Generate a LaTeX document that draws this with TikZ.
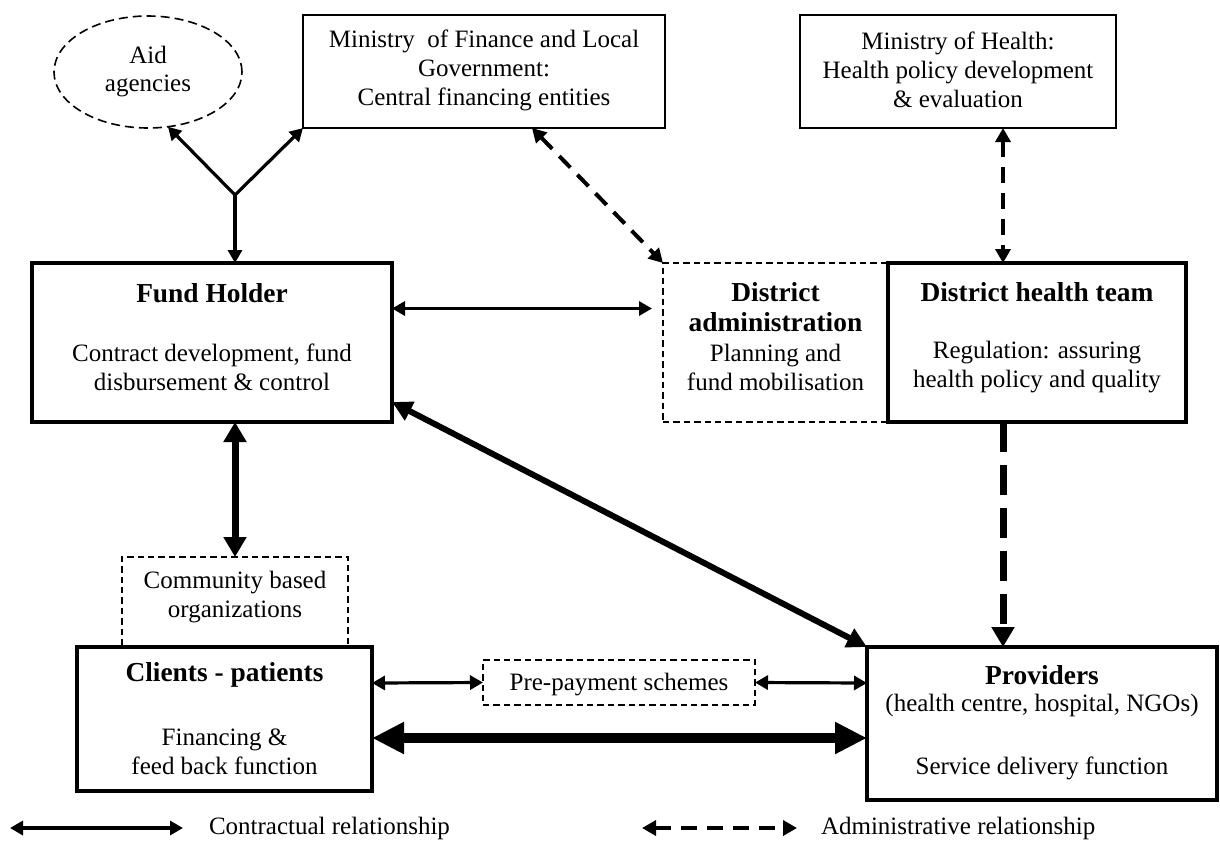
\documentclass[tikz,border=0pt]{standalone}
\usepackage{fontspec}
\setmainfont{Liberation Serif}
\usetikzlibrary{arrows.meta,shapes.geometric,calc}

\begin{document}
\begin{tikzpicture}[x=0.5pt,y=-0.5pt,
  every node/.style={inner sep=0pt,outer sep=0pt},
  body/.style={font=\fontsize{12.5pt}{14.5pt}\selectfont,align=center},
  title/.style={font=\fontsize{13.7pt}{15pt}\selectfont\bfseries,align=center},
  thinbox/.style={draw,line width=0.85pt},
  thickbox/.style={draw,line width=2pt},
  dashbox/.style={draw,line width=0.8pt,dash pattern=on 3.2pt off 2pt},
  dashoval/.style={draw,line width=0.8pt,dash pattern=on 4.5pt off 2.5pt},
  contract/.style={line width=1.6pt,
    {Triangle[length=6.5pt,width=7pt]}-{Triangle[length=6.5pt,width=7pt]}},
  oneway/.style={line width=1.6pt,-{Triangle[length=6.5pt,width=7pt]}},
  admin/.style={line width=2pt,dash pattern=on 8pt off 5pt,
    {Triangle[length=7pt,width=7.5pt]}-{Triangle[length=7pt,width=7.5pt]}},
  heavy/.style={line width=3.5pt,
    {Triangle[length=10pt,width=11pt]}-{Triangle[length=10pt,width=11pt]}},
  heavydash/.style={line width=3.5pt,dash pattern=on 15pt off 6.5pt,
    -{Triangle[length=10pt,width=11pt]}},
  diag/.style={line width=3pt,
    {Triangle[length=10pt,width=10pt]}-{Triangle[length=10pt,width=10pt]}},
  massive/.style={line width=5pt,
    {Triangle[length=16pt,width=15pt]}-{Triangle[length=16pt,width=15pt]}}
]
\useasboundingbox (0,0) rectangle (1220,842);

% ---- dashed boxes first, solid boxes drawn over shared edges ----
\node[ellipse,dashoval,minimum width=94pt,minimum height=56pt] (aid) at (148,72) {};
\node[dashbox,minimum width=112.5pt,minimum height=79.5pt] (da) at (775.5,342.5) {};
\node[dashbox,minimum width=113pt,minimum height=45pt] (cbo) at (235,602) {};
\node[dashbox,minimum width=136pt,minimum height=22.5pt] (pre) at (619,682.5) {};

\node[thinbox,minimum width=181pt,minimum height=56.5pt] (mof) at (484,71.5) {};
\node[thinbox,minimum width=158pt,minimum height=56.5pt] (moh) at (958,71.5) {};
\node[thickbox,minimum width=180pt,minimum height=79.5pt] (fh) at (212,342.5) {};
\node[thickbox,minimum width=149pt,minimum height=79.5pt] (dht) at (1037,342.5) {};
\node[thickbox,minimum width=147.5pt,minimum height=72pt] (cli) at (224.5,719) {};
\node[thickbox,minimum width=175pt,minimum height=76.5pt] (prov) at (1042,723.5) {};

% ---- texts ----
\node[body,font=\fontsize{12.5pt}{14pt}\selectfont] (aidT) at (148,72) {Aid\\agencies};
\node[body] (mofT) at (484,70) {Ministry\ \ of Finance and Local\\Government:\\Central financing entities};
\node[body] (mohT) at (958,70) {Ministry of Health:\\Health policy development\\\& evaluation};

\node[title] (fhT) at (212,293) {Fund Holder};
\node[body] (fhB) at (212,367.5) {Contract development, fund\\disbursement \& control};

\node[title] (daT) at (775.5,307) {District\\administration};
\node[body] (daB) at (775.5,367.5) {Planning and\\fund mobilisation};

\node[title] (dhtT) at (1037,292) {District health team};
\node[body] (dhtB) at (1037,367.5) {Regulation: assuring\\health policy and quality};

\node[body] (cboT) at (235,597) {Community based\\organizations};

\node[title] (cliT) at (224.5,675) {Clients - patients};
\node[body] (cliB) at (224.5,752) {Financing \&\\feed back function};

\node[body] (preT) at (619,685) {Pre-payment schemes};

\node[title] (provT) at (1042,675) {Providers};
\node[body] (provS) at (1042,705) {(health centre, hospital, NGOs)};
\node[body] (provB) at (1042,768) {Service delivery function};

% ---- connectors ----
\coordinate (J) at (235,195);
\draw[oneway] (J) -- (aid.-70);
\draw[oneway] (J) -- (mof.south west);
\draw[oneway] (J) -- (J |- fh.north);

\draw[contract,shorten >=5.5pt] ([yshift=17pt]fh.east) -- ([yshift=17pt]da.west);
\draw[admin] ([xshift=24pt]mof.south) -- (da.north west);
\draw[admin] ([xshift=22.5pt]moh.south) -- ([xshift=-17pt]dht.north);
\draw[heavydash] ([xshift=-17pt]dht.south) -- ([xshift=-19.5pt]prov.north);

\draw[heavy] ([xshift=11.5pt]fh.south) -- (cbo.north);
\draw[diag] ([yshift=-29.75pt]fh.east) -- (prov.north west);

\draw[contract] ([yshift=18pt]cli.east) -- (pre.west);
\draw[contract] (pre.east) -- ([yshift=20.25pt]prov.west);
\draw[massive] ([yshift=-9.5pt]cli.east) -- ([yshift=-7.25pt]prov.west);

% ---- legend ----
\coordinate (la) at (10,828);
\coordinate (lb) at (183,828);
\draw[contract] (la) -- (lb);
\node[body,anchor=west] (lt1) at (209,828) {Contractual relationship};
\coordinate (lc) at (642,828);
\coordinate (ld) at (797,828);
\draw[admin] (lc) -- (ld);
\node[body,anchor=west] (lt2) at (821,828) {Administrative relationship};
\end{tikzpicture}
\end{document}
